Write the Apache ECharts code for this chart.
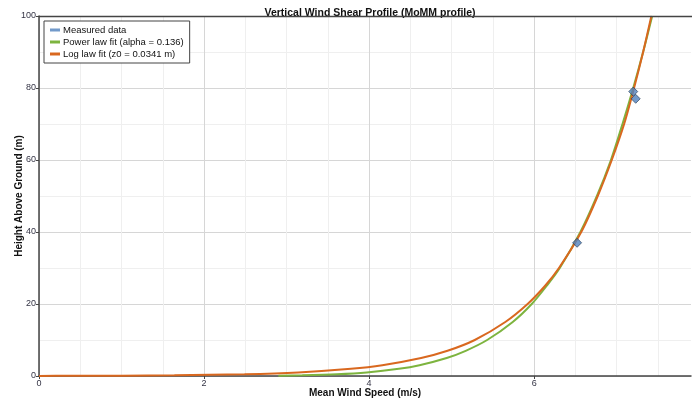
<!DOCTYPE html>
<html>
<head>
<meta charset="utf-8">
<script src="https://cdn.jsdelivr.net/npm/echarts@6/dist/echarts.min.js"></script>
<style>
html,body{margin:0;padding:0;background:#fff;}
#chart{width:692px;height:399px;}
</style>
</head>
<body>
<div id="chart"></div>
<script>
// Measured data (mean wind speed m/s, height m)
const measuredSpeed = [6.52, 7.20, 7.23];
const measuredHeight = [37, 79, 77];

// Power law fit curve
const powerHeight = [0.1, 0.2, 0.5, 1, 2, 3, 5, 7, 10, 15, 20, 25, 30, 40, 50, 60, 70, 80, 90, 100];
const powerSpeed  = [2.90, 3.19, 3.61, 3.97, 4.36, 4.61, 4.94, 5.17, 5.43, 5.74, 5.97, 6.15, 6.31, 6.56, 6.76, 6.93, 7.07, 7.20, 7.32, 7.43];

// Log law fit curve
const logHeight = [0.034, 0.05, 0.1, 0.2, 0.5, 1, 2, 3, 5, 7, 10, 15, 20, 25, 30, 40, 50, 60, 70, 80, 90, 100];
const logSpeed  = [0.00, 0.36, 1.00, 1.64, 2.49, 3.14, 3.78, 4.16, 4.63, 4.95, 5.28, 5.65, 5.92, 6.13, 6.30, 6.57, 6.77, 6.94, 7.09, 7.21, 7.32, 7.42];

const xTicks = [0, 2, 4, 6];
const yTicks = [0, 20, 40, 60, 80, 100];

const seriesNames = ['Measured data', 'Power law fit (alpha = 0.136)', 'Log law fit (z0 = 0.0341 m)'];

const zip = (a, b) => a.map((v, i) => [v, b[i]]);

const FONT = 'Liberation Sans, Arial, sans-serif';
const MAJOR = '#d6d6d6';
const MINOR = '#efefef';
const xGridColors = [];
for (let i = 0; i < 4; i++) xGridColors.push(MAJOR, MINOR, MINOR, MINOR);
xGridColors.push('rgba(0,0,0,0)');

const chart = echarts.init(document.getElementById('chart'), null, {renderer: 'canvas'});
chart.setOption({
  animation: false,
  backgroundColor: '#fff',
  title: {
    text: 'Vertical Wind Shear Profile (MoMM profile)',
    left: 365, top: 3, textAlign: 'center',
    textStyle: {fontFamily: FONT, fontSize: 10.5, fontWeight: 'bold', color: '#111'}
  },
  legend: {
    orient: 'vertical', left: 44, top: 21,
    itemWidth: 10, itemHeight: 3, itemGap: 2,
    padding: [4, 6, 4, 6],
    borderColor: '#444', borderWidth: 1, backgroundColor: '#fff',
    itemStyle: {borderWidth: 0},
    textStyle: {fontFamily: FONT, fontSize: 9.5, color: '#111', padding: [0, 0, 0, -2]},
    data: seriesNames.map(n => ({name: n, icon: 'rect'}))
  },
  grid: {left: 39, right: 1, top: 16, bottom: 23, outerBoundsMode: 'none', containLabel: false,
    show: false},
  xAxis: [{
    type: 'value', min: 0, max: 7.9, interval: 0.5,
    axisLine: {show: false}, axisTick: {show: false}, axisLabel: {show: false},
    splitLine: {show: true, lineStyle: {color: xGridColors, width: 1}}
  }, {
    type: 'value', min: 0, max: 7.9, interval: 2, position: 'bottom',
    name: 'Mean Wind Speed (m/s)', nameLocation: 'middle', nameGap: 12, nameMoveOverlap: false,
    nameTextStyle: {fontFamily: FONT, fontSize: 10, fontWeight: 'bold', color: '#111'},
    axisLine: {show: true, onZero: false, lineStyle: {color: '#444', width: 1.5}},
    axisTick: {show: true, length: 3, lineStyle: {color: '#444'}},
    axisLabel: {fontFamily: FONT, fontSize: 9, color: '#334', margin: 3, showMaxLabel: false,
      formatter: v => xTicks.includes(v) ? String(v) : ''},
    splitLine: {show: false}
  }],
  yAxis: [{
    type: 'value', min: 0, max: 100, interval: 20,
    name: 'Height Above Ground (m)', nameLocation: 'middle', nameGap: 15, nameRotate: 90,
    nameMoveOverlap: false,
    nameTextStyle: {fontFamily: FONT, fontSize: 10, fontWeight: 'bold', color: '#111'},
    axisLine: {show: true, onZero: false, lineStyle: {color: '#444', width: 1.5}},
    axisTick: {show: true, length: 3, lineStyle: {color: '#444'}},
    axisLabel: {fontFamily: FONT, fontSize: 9, color: '#334', margin: 3,
      formatter: v => yTicks.includes(v) ? String(v) : ''},
    splitLine: {show: true, lineStyle: {color: MAJOR}},
    minorTick: {show: false, splitNumber: 2},
    minorSplitLine: {show: true, lineStyle: {color: MINOR}}
  }, {
    type: 'value', min: 0, max: 100, position: 'right',
    axisLine: {show: false}, axisTick: {show: false}, axisLabel: {show: false}, splitLine: {show: false}
  }],
  series: [{
    name: seriesNames[0], type: 'scatter', xAxisIndex: 1, yAxisIndex: 0,
    symbol: 'diamond', symbolSize: 9, z: 5,
    itemStyle: {color: '#4f81bd', borderColor: '#1f3550', borderWidth: 0.8},
    data: zip(measuredSpeed, measuredHeight)
  }, {
    name: seriesNames[1], type: 'line', xAxisIndex: 1, yAxisIndex: 0,
    showSymbol: false, smooth: 0.3, z: 3,
    lineStyle: {color: '#7db43f', width: 2}, itemStyle: {color: '#7db43f'},
    data: zip(powerSpeed, powerHeight)
  }, {
    name: seriesNames[2], type: 'line', xAxisIndex: 1, yAxisIndex: 0,
    showSymbol: false, smooth: 0.3, z: 4,
    lineStyle: {color: '#d9681f', width: 2}, itemStyle: {color: '#d9681f'},
    data: zip(logSpeed, logHeight)
  }],
  graphic: [{
    type: 'line', z: 10, silent: true,
    shape: {x1: 39, y1: 16.5, x2: 692, y2: 16.5},
    style: {stroke: '#444', lineWidth: 1.5}
  }]
});
</script>
</body>
</html>
